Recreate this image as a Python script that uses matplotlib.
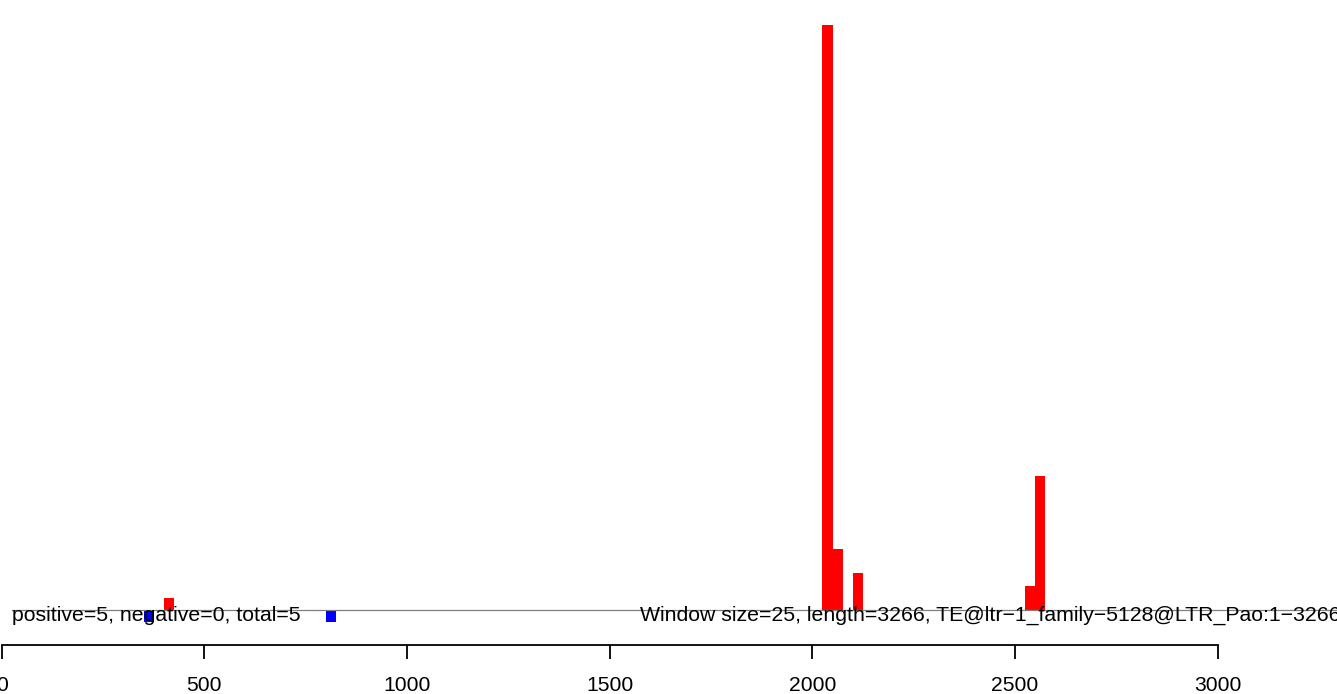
import matplotlib
matplotlib.use("Agg")
import matplotlib.pyplot as plt

# ---- data ----
window_size = 25
seq_length = 3266
pos_starts = [400, 2025, 2050, 2100, 2525, 2550]
pos_values = [1, 48, 5, 3, 2, 11]
neg_starts = [350, 800]
neg_values = [-1, -1]
xticks = [0, 500, 1000, 1500, 2000, 2500, 3000]
left_label = "positive=5, negative=0, total=5"
right_label = "Window size=25, length=3266, TE@ltr\u22121_family\u22125128@LTR_Pao:1\u22123266"

plt.rcParams['font.family'] = ['Liberation Sans', 'DejaVu Sans']

W, H = 1337, 694
fig = plt.figure(figsize=(W / 100, H / 100), dpi=100)
# axes: bottom edge at pixel row 645, top at row 0, spanning the full width
ax = fig.add_axes([0, (H - 645) / H, 1, 645 / H])

px_per_unit_x = 0.4053
x0_px = 1.7
ax.set_xlim((0 - x0_px) / px_per_unit_x, (W - x0_px) / px_per_unit_x)
px_per_unit_y = 12.18
base_px = 610
ax.set_ylim(-(645 - base_px) / px_per_unit_y, base_px / px_per_unit_y)

ax.bar(pos_starts, pos_values, width=window_size, align='edge',
       color='#FF0000', linewidth=0)
ax.bar(neg_starts, neg_values, width=window_size, align='edge',
       color='#0000FF', linewidth=0)

ax.plot([window_size, 3300], [0, 0], color='#808080', linewidth=0.9, zorder=1)

ax.text(window_size, -0.45, left_label, ha='left', va='center', fontsize=15.3,
        color='black', zorder=5)
ax.text(1574, -0.45, right_label, ha='left', va='center', fontsize=15.3,
        color='black', zorder=5, clip_on=False)

for s in ['top', 'right', 'left']:
    ax.spines[s].set_visible(False)
ax.spines['bottom'].set_bounds(0, 3000)
ax.spines['bottom'].set_linewidth(1.3)
ax.set_xticks(xticks)
ax.set_xticklabels([str(t) for t in xticks])
ax.tick_params(axis='x', direction='out', length=10, width=1.3, pad=12,
               labelsize=15.2)
ax.set_yticks([])
ax.patch.set_alpha(0)

fig.savefig("out.png", dpi=100)
